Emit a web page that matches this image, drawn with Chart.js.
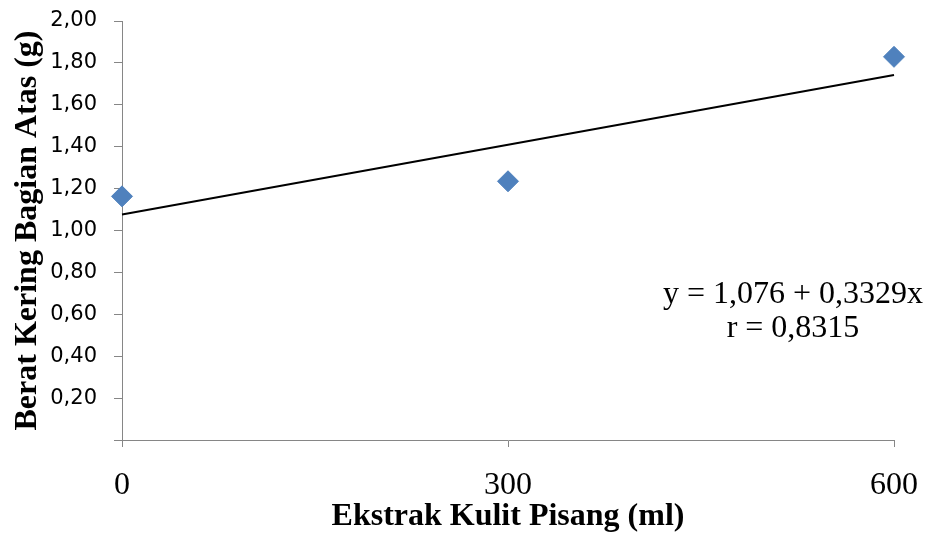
<!DOCTYPE html>
<html>
<head>
<meta charset="utf-8">
<script src="https://cdn.jsdelivr.net/npm/chart.js@4/dist/chart.umd.min.js"></script>
<style>
html,body{margin:0;padding:0;background:#fff;}
#wrap{width:927px;height:536px;position:relative;}
</style>
</head>
<body>
<div id="wrap"><canvas id="c" width="927" height="536"></canvas></div>
<script>
// Data
const xValues = [0, 300, 600];
const yValues = [1.163, 1.235, 1.829];
const trendX = [0, 600];
const trendIntercept = 1.076;
const trendSlopePer300 = 0.3329;
const trendY = trendX.map(x => trendIntercept + trendSlopePer300 * (x / 300));
const xTicks = [0, 300, 600];
const equationLines = ['y = 1,076 + 0,3329x', 'r = 0,8315'];
const xTitle = 'Ekstrak Kulit Pisang (ml)';
const yTitle = 'Berat Kering Bagian Atas (g)';

const axisGray = '#868686';

function zeroPad(scale) {
  scale.paddingTop = 0; scale.paddingBottom = 0;
  scale.paddingLeft = 0; scale.paddingRight = 0;
}

const equationPlugin = {
  id: 'equation',
  afterDraw(chart) {
    const ctx = chart.ctx;
    ctx.save();
    ctx.font = '32px "Liberation Serif"';
    ctx.fillStyle = '#000';
    ctx.textAlign = 'center';
    ctx.textBaseline = 'alphabetic';
    ctx.fillText(equationLines[0], 793, 303);
    ctx.fillText(equationLines[1], 793, 337);
    ctx.restore();
  }
};

new Chart(document.getElementById('c'), {
  type: 'scatter',
  data: {
    datasets: [
      {
        label: 'Data',
        data: xValues.map((x, i) => ({x: x, y: yValues[i]})),
        pointStyle: 'rectRot',
        pointRadius: 10.5,
        pointHoverRadius: 10.5,
        backgroundColor: '#4F81BD',
        borderColor: '#4F81BD',
        borderWidth: 1,
        showLine: false,
        clip: false,
        order: 1
      },
      {
        label: 'Trend',
        type: 'line',
        data: trendX.map((x, i) => ({x: x, y: trendY[i]})),
        borderColor: '#000',
        borderWidth: 2,
        pointRadius: 0,
        fill: false,
        clip: false,
        order: 2
      }
    ]
  },
  options: {
    responsive: false,
    animation: false,
    layout: { padding: { top: 21, right: 33, left: 0, bottom: 0 } },
    plugins: { legend: { display: false }, tooltip: { enabled: false } },
    scales: {
      x: {
        type: 'linear',
        min: 0, max: 600,
        afterBuildTicks(scale) { scale.ticks = xTicks.map(v => ({value: v})); },
        afterFit(scale) { scale.height = 96; zeroPad(scale); },
        grid: { drawOnChartArea: false, drawTicks: true, tickLength: 7, color: axisGray, lineWidth: 1 },
        border: { color: axisGray, width: 1 },
        ticks: {
          font: { family: 'Liberation Serif', size: 32 },
          color: '#000',
          padding: 19,
          maxRotation: 0,
          callback: v => String(v)
        },
        title: {
          display: true,
          text: xTitle,
          font: { family: 'Liberation Serif', size: 32, weight: 'bold' },
          color: '#000',
          padding: { top: 0, bottom: 0 }
        }
      },
      y: {
        min: 0, max: 2,
        afterFit(scale) { scale.width = 122; zeroPad(scale); },
        grid: { drawOnChartArea: false, drawTicks: true, tickLength: 8, color: axisGray, lineWidth: 1 },
        border: { color: axisGray, width: 1 },
        ticks: {
          stepSize: 0.2,
          font: { family: 'DejaVu Sans', size: 21 },
          color: '#000',
          padding: 17,
          callback: v => (Math.abs(v) < 1e-9 ? '' : v.toFixed(2).replace('.', ','))
        },
        title: {
          display: true,
          text: yTitle,
          font: { family: 'Liberation Serif', size: 32, weight: 'bold' },
          color: '#000',
          padding: { top: 9, bottom: 0 }
        }
      }
    }
  },
  plugins: [equationPlugin]
});
</script>
</body>
</html>
